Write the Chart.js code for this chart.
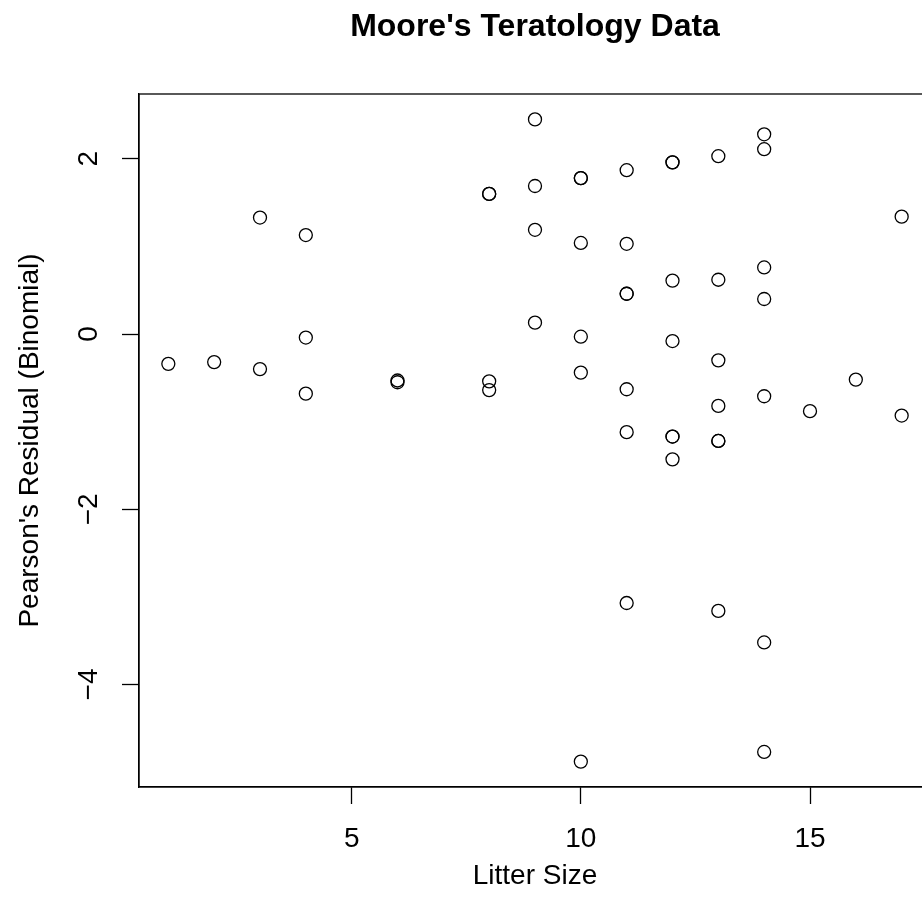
<!DOCTYPE html>
<html>
<head>
<meta charset="utf-8">
<script src="https://cdn.jsdelivr.net/npm/chart.js@4.4.1/dist/chart.umd.min.js"></script>
<style>
  html, body { margin: 0; padding: 0; background: #fff; overflow: hidden; }
  #wrap { width: 940px; height: 917px; }
</style>
</head>
<body>
<div id="wrap"><canvas id="teratology" width="940" height="917"></canvas></div>
<script>
// Moore's teratology data: litter size vs Pearson residual (binomial fit)
const litterSize = [
  1, 2, 3, 3, 4, 4, 4, 6, 6,
  8, 8, 8, 8,
  9, 9, 9, 9,
  10, 10, 10, 10, 10, 10,
  11, 11, 11, 11, 11, 11, 11,
  12, 12, 12, 12, 12, 12, 12,
  13, 13, 13, 13, 13, 13, 13,
  14, 14, 14, 14, 14, 14, 14,
  15, 16, 17, 17
];
const residual = [
  -0.34, -0.32, 1.33, -0.40, 1.13, -0.04, -0.68, -0.53, -0.55,
  1.60, 1.60, -0.54, -0.64,
  2.45, 1.69, 1.19, 0.13,
  1.78, 1.78, 1.04, -0.03, -0.44, -4.88,
  1.87, 1.03, 0.46, 0.46, -0.63, -1.12, -3.07,
  1.96, 1.96, 0.61, -0.08, -1.17, -1.17, -1.43,
  2.03, 0.62, -0.30, -0.82, -1.22, -1.22, -3.16,
  2.28, 2.11, 0.76, 0.40, -0.71, -3.52, -4.77,
  -0.88, -0.52, 1.34, -0.93
];
const xTicks = [5, 10, 15];
const yTicks = [-4, -2, 0, 2];

const FONT = "'Liberation Sans', Arial, sans-serif";
const fmt = v => String(v).replace('-', '\u2212');

// box around the plot region + rotated y tick labels (R style)
const rFrame = {
  id: 'rFrame',
  afterDraw(chart) {
    const { ctx, chartArea: a } = chart;
    const y = chart.scales.y;
    ctx.save();
    ctx.strokeStyle = '#000';
    ctx.lineWidth = 1.3;
    ctx.strokeRect(a.left, a.top, a.right - a.left, a.bottom - a.top);

    ctx.fillStyle = '#000';
    ctx.font = `28px ${FONT}`;
    ctx.textAlign = 'center';
    ctx.textBaseline = 'middle';
    yTicks.forEach(v => {
      ctx.save();
      ctx.translate(89, y.getPixelForValue(v));
      ctx.rotate(-Math.PI / 2);
      ctx.fillText(fmt(v), 0, 0);
      ctx.restore();
    });
    ctx.restore();
  }
};

const points = litterSize.map((x, i) => ({ x, y: residual[i] }));

new Chart(document.getElementById('teratology'), {
  type: 'scatter',
  data: {
    datasets: [{
      data: points,
      pointStyle: 'circle',
      pointRadius: 6.5,
      pointBorderWidth: 1.3,
      pointBorderColor: '#000',
      pointBackgroundColor: 'rgba(0,0,0,0)',
      pointHoverRadius: 6.5
    }]
  },
  options: {
    responsive: false,
    animation: false,
    devicePixelRatio: 1,
    layout: { padding: { left: 0, right: 9, top: 0, bottom: 0 } },
    plugins: {
      legend: { display: false },
      tooltip: { enabled: false },
      title: {
        display: true,
        text: "Moore's Teratology Data",
        color: '#000',
        fullSize: false,
        font: { family: FONT, size: 32, weight: 'bold' },
        padding: { top: 8, bottom: 47.6 }
      }
    },
    scales: {
      x: {
        type: 'linear',
        min: 0.36,
        max: 17.64,
        afterBuildTicks: s => { s.ticks = xTicks.map(v => ({ value: v })); },
        afterFit: s => { s.height = 130; },
        border: { display: true, color: '#000', width: 1.3 },
        grid: { drawOnChartArea: false, drawTicks: true, tickLength: 17, tickColor: '#000', tickWidth: 1.3 },
        ticks: {
          color: '#000',
          font: { family: FONT, size: 28 },
          padding: 18,
          maxRotation: 0,
          autoSkip: false,
          callback: v => fmt(v)
        },
        title: {
          display: true,
          text: 'Litter Size',
          color: '#000',
          font: { family: FONT, size: 28 },
          padding: { top: 0, bottom: 24 }
        }
      },
      y: {
        type: 'linear',
        min: -5.17,
        max: 2.74,
        afterBuildTicks: s => { s.ticks = yTicks.map(v => ({ value: v })); },
        afterFit: s => { s.width = 139; },
        border: { display: true, color: '#000', width: 1.3 },
        grid: { drawOnChartArea: false, drawTicks: true, tickLength: 17, tickColor: '#000', tickWidth: 1.3 },
        ticks: { display: false },
        title: {
          display: true,
          text: "Pearson's Residual (Binomial)",
          color: '#000',
          font: { family: FONT, size: 28 },
          padding: { top: 13, bottom: 0 }
        }
      }
    }
  },
  plugins: [rFrame]
});
</script>
</body>
</html>
